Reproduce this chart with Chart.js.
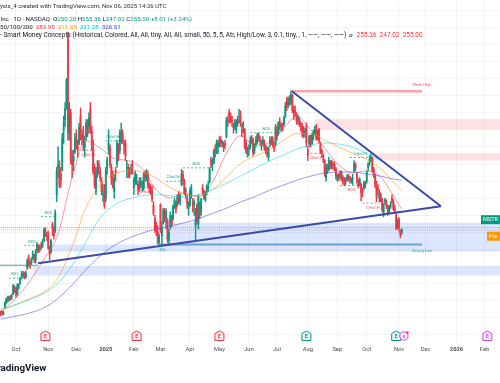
<!DOCTYPE html>
<html>
<head>
<meta charset="utf-8">
<script src="https://cdn.jsdelivr.net/npm/chart.js@4.4.1/dist/chart.umd.min.js"></script>
<style>
  html, body { margin: 0; padding: 0; background: #fff; }
  canvas { display: block; }
</style>
</head>
<body>
<canvas id="chart" width="500" height="383"></canvas>
<script>
// daily bars, Sep 16 2024 .. Nov 5 2025; bar 0 = Oct 1 2024
const firstBar = -11;
const opens = [
  133,132,131,141,147,155,151,155,156,160,170,
  168,160,170,176,186,187,190,185,198,214,205,206,213,216,210,224,230,226,230,232,238,252,245,
  246,224,222,262,255,252,305,345,345,335,345,400,415,440,535,395,425,356,355,368,
  390,375,380,420,392,395,375,390,410,405,430,398,375,345,310,335,350,340,325,305,310,
  300,345,370,375,345,330,310,340,350,375,370,395,395,380,380,345,345,340,340,342,
  315,325,330,320,320,320,320,315,335,330,335,318,315,310,290,270,258,250,236,
  290,245,265,275,270,268,238,260,272,270,290,292,290,300,295,320,335,322,310,300,285,
  290,305,295,290,260,290,262,290,280,315,310,298,310,315,325,355,350,352,372,370,375,
  385,385,380,378,380,390,415,425,420,415,405,405,400,415,412,420,400,405,400,380,368,
  372,375,388,385,370,378,385,392,385,375,380,382,375,372,360,380,385,385,378,378,
  400,395,412,405,405,408,420,440,438,445,440,450,430,428,422,415,415,408,405,400,395,405,
  370,380,388,380,393,395,405,390,400,378,370,362,355,330,345,342,352,346,350,350,343,
  328,332,332,338,330,326,325,328,332,330,326,328,340,350,335,325,320,320,310,315,322,
  325,345,355,358,358,342,332,318,315,300,305,298,275,295,295,288,280,288,300,295,285,275,260,
  268,252,250.20
];
const highs = [
  135,136,135,148,154,157,157,158,160,174,172,
  170,175,175,184,193,193,192,194,211,217,208,213,223,218,225,235,232,232,236,240,256,257,250,
  252,230,240,265,258,283,345,375,355,345,395,420,440,475,543,440,430,370,370,395,
  400,385,410,432,400,405,390,415,415,425,440,405,385,350,345,355,355,345,330,320,320,
  345,360,400,378,350,340,335,345,385,380,400,410,400,385,385,355,350,345,350,355,
  330,340,335,325,330,330,325,338,340,342,340,322,320,318,295,275,265,260,248,
  292,265,285,285,285,270,255,280,275,290,300,295,305,310,306,342,340,328,315,305,295,
  315,320,300,298,285,292,305,295,300,320,312,310,320,325,345,360,358,372,378,385,385,
  390,390,385,382,385,418,420,430,425,420,410,415,415,420,430,428,410,412,402,385,375,
  378,390,392,388,380,390,395,395,390,385,390,385,378,375,375,390,390,390,382,408,
  405,412,418,410,410,420,440,448,448,450,457,452,435,435,425,422,418,412,410,405,402,410,
  375,392,392,395,400,405,408,400,402,382,372,365,357,350,350,360,355,356,354,353,345,
  335,336,340,340,333,330,330,335,335,332,330,335,355,352,338,328,330,322,315,325,325,
  340,352,362,365,360,345,335,325,320,312,308,300,292,300,298,290,290,295,305,298,290,278,270,
  272,254,255.36
];
const lows = [
  128,129,129,139,145,148,149,151,152,159,162,
  155,158,167,174,182,184,182,183,196,200,197,203,210,206,205,220,220,222,225,228,236,244,238,
  225,210,220,245,240,250,295,330,315,316,340,380,405,430,385,385,350,330,340,365,
  372,360,378,385,378,370,360,385,390,395,395,370,335,315,305,330,335,325,305,295,285,
  295,335,365,345,320,315,300,325,345,355,365,380,380,365,355,330,330,330,335,335,
  305,320,320,305,310,315,310,312,325,325,315,308,305,295,275,250,245,233,231,
  250,232,262,265,255,235,233,255,258,268,285,278,288,292,290,318,320,305,300,285,275,
  288,300,280,275,237,262,255,270,275,305,298,295,305,310,322,345,340,350,360,365,365,
  375,375,375,368,372,388,405,410,410,405,395,400,395,405,410,405,390,395,372,365,360,
  362,372,380,362,365,375,380,383,378,370,378,370,365,360,355,375,378,375,368,376,
  385,392,400,398,398,405,418,428,432,435,437,425,415,420,408,408,405,398,390,388,390,375,
  355,375,375,378,385,392,385,385,380,365,360,352,332,325,336,340,343,343,342,340,328,
  325,326,328,325,320,318,320,325,325,322,322,320,338,340,322,315,318,296,302,312,315,
  322,340,348,352,338,330,315,295,305,295,295,280,273,290,285,275,278,285,292,282,278,254,255,
  252,242,247.02
];
const closes = [
  131,131,133,147,153,151,156,152,156,172,169,
  160,173,172,183,188,190,187,190,209,202,204,211,218,212,222,232,225,228,229,232,254,247,244,
  227,218,238,257,246,279,340,349,319,327,387,410,431,473,397,421,355,349,361,387,
  380,370,404,396,387,381,382,410,396,417,401,378,339,322,334,342,345,330,310,307,290,
  340,356,380,350,328,328,329,337,380,360,396,397,385,377,362,345,342,335,340,336,
  326,336,330,312,316,324,320,334,330,337,319,314,310,299,278,255,251,235,244,
  252,258,283,271,281,240,250,275,262,289,297,284,302,296,305,335,325,308,311,292,288,
  311,316,293,293,268,268,301,277,299,311,300,307,317,317,342,350,353,369,368,381,381,
  380,381,383,376,378,414,412,420,416,413,403,410,412,409,413,411,396,408,375,369,370,
  373,385,386,366,375,384,392,387,384,377,385,375,370,364,373,385,383,380,372,404,
  390,410,402,406,403,418,435,433,445,438,452,428,424,426,413,418,411,404,396,393,397,381,
  363,390,378,392,397,400,388,396,384,369,366,360,336,346,341,355,345,350,348,345,333,
  333,330,336,329,325,323,326,331,330,327,328,329,350,344,326,318,327,308,309,322,320,
  338,350,357,360,340,334,319,301,311,306,298,283,288,297,291,278,287,290,295,285,281,256,268,
  257,247,255.00
];

// time axis
const monthTicks = [0, 23, 43, 64, 84, 103, 124, 145, 166, 186, 208, 229, 250, 273, 292, 314, 334];
const monthLabels = ['Oct','Nov','Dec','2025','Feb','Mar','Apr','May','Jun','Jul','Aug','Sep','Oct','Nov','Dec','2026','Feb'];
const priceTicks = [100,125,150,175,200,225,250,275,300,325,350,375,400,425,450,475,500,525,550,575];

// moving averages
const maBars = [-11,0,10,20,30,40,50,60,70,80,90,100,110,120,130,140,150,160,170,180,190,200,210,220,230,240,250,260,270,275];
const ma20  = [133.8,153.5,179.3,211.1,248,330,383.8,373.2,358,355,342.9,312.6,300.5,308,302,323.2,365.6,391.4,377.7,380.7,400.4,420.1,400.4,373.2,348.9,336.8,339.8,330.7,300.5,283.95];
const ma50  = [135.3,144.4,153.5,162.6,183.8,229.2,286.8,320.1,335.3,339.8,338.3,329.2,315.6,306.5,303.5,312.6,330.8,350.5,361.1,370.1,383.8,394.4,394.4,385.3,374.7,365.6,356.5,342.9,321.7,311.35];
const ma100 = [138.3,144.4,152,161,176.2,202,236.8,271.7,289.8,299,303.5,305,303.5,302,305,312.6,321.7,332.3,342.9,353.5,362.6,371.7,377.7,380.7,379.2,374.7,365.6,355,339.8,331.28];
const ma200 = [123.2,127.7,132.3,139.9,153.5,173.2,195.9,215.6,230.8,241.4,248.9,255,259.5,264.1,270.2,277.7,285.3,294.4,302,311,318.6,326.2,332.3,336.8,338.3,338.3,335.3,332.3,327.7,326.51];

// drawings: [bar, price]
const triUpper = [[196.7, 456.5], [302.9, 288.3]];
const triLower = [[15.7, 205], [302.9, 288.3]];
const weakHigh = [[196.7, 456.5], [289.4, 456.5]];
const strongLow = [[102, 232.3], [289.4, 232.3]];
const leftLevel = [[-12, 202], [15.7, 202]];
const priceLines = [257, 253.5];

// order blocks: [fromBar, toBar, top, bottom]
const supplyZones = [[213, 346, 415.6, 400.4], [254, 346, 365.6, 355]];
const demandZones = [[108, 346, 264, 232.3], [24, 346, 232.3, 221.7], [12, 346, 200.5, 186.8]];

// structure breaks: [fromBar, toBar, price, label, bullish]
const structures = [
  [-5, 3.5, 183, 'BOS', true],
  [6, 17, 230.8, 'BOS', true],
  [18, 28, 273.2, 'BOS', true],
  [47, 56, 370.1, 'CHoCH', false],
  [64, 74, 383.8, 'CHoCH', true],
  [88, 98, 315.6, 'CHoCH', false],
  [107, 117, 324.7, 'CHoCH', true],
  [119, 138, 344.4, 'BOS', true],
  [167, 190, 395.9, 'BOS', true],
  [210, 218, 365.6, 'CHoCH', false],
  [231, 247, 318.6, 'BOS', false],
  [238, 253, 359.5, 'CHoCH', true],
  [247, 262, 292.9, 'CHoCH', false]
];

const earningsBars = [21, 86, 145, 207, 271, 336];
const earningsKind = ['miss', 'miss', 'miss', 'beat', 'beat', 'next'];
const eventBars = [276.5];

const FONT = 'Roboto, "Liberation Sans", Arial, sans-serif';
const UP = '#089981', DOWN = '#f23645', DARK = '#131722';

const bars = closes.map((c, i) => firstBar + i);
const candleColors = closes.map((c, i) => c >= opens[i] ? UP : DOWN);
const pts = (arr) => arr.map(p => ({ x: p[0], y: p[1] }));

function lineSet(data, color, width, dash, order) {
  return { type: 'line', data: data, borderColor: color, borderWidth: width, borderDash: dash || [],
           pointRadius: 0, fill: false, tension: 0, order: order };
}
function maSet(values, color) {
  return { type: 'line', data: maBars.map((b, i) => ({ x: b, y: values[i] })), borderColor: color,
           borderWidth: 1, pointRadius: 0, fill: false, cubicInterpolationMode: 'monotone', order: 4 };
}

const datasets = [];
priceLines.forEach((p, i) => {
  datasets.push(lineSet(pts([[-12, p], [346, p]]), i === 0 ? 'rgba(120,170,210,0.9)' : 'rgba(255,152,0,0.7)', 1, [1, 1], 9));
});
datasets.push({
  type: 'bar', data: bars.map((b, i) => ({ x: b, y: [lows[i], highs[i]] })),
  backgroundColor: candleColors, barThickness: 0.8, grouped: false, order: 8
});
datasets.push({
  type: 'bar', data: bars.map((b, i) => ({ x: b, y: [Math.min(opens[i], closes[i]), Math.max(opens[i], closes[i])] })),
  backgroundColor: candleColors, barThickness: 1.2, grouped: false, order: 7
});
datasets.push(maSet(ma200, 'rgba(90,85,240,0.6)'));
datasets.push(maSet(ma100, 'rgba(0,210,230,0.5)'));
datasets.push(maSet(ma50, 'rgba(255,152,0,0.55)'));
datasets.push(maSet(ma20, 'rgba(242,54,69,0.5)'));
datasets.push(lineSet(pts(weakHigh), 'rgba(242,54,69,0.45)', 2.5, [], 3));
datasets.push(lineSet(pts(strongLow), 'rgba(70,140,190,0.75)', 2, [], 3));
datasets.push(lineSet(pts(leftLevel), 'rgba(8,153,129,0.8)', 1, [], 3));
structures.forEach(s => {
  datasets.push(lineSet(pts([[s[0], s[2]], [s[1], s[2]]]), s[4] ? 'rgba(8,153,129,0.7)' : 'rgba(242,54,69,0.7)', 1, [2, 2], 2));
});
datasets.push(lineSet(pts(triUpper), '#3a4aa8', 2, [], 1));
datasets.push(lineSet(pts(triLower), '#3a4aa8', 2, [], 1));

// font size that makes a string `width` px wide
function fitSize(ctx, text, width, bold) {
  ctx.font = (bold ? 'bold ' : '') + '10px ' + FONT;
  return 10 * width / ctx.measureText(text).width;
}
function runs(ctx, x, y, parts) {
  parts.forEach(p => {
    ctx.fillStyle = p[1];
    ctx.fillText(p[0], x, y);
    x += ctx.measureText(p[0]).width;
  });
  return x;
}

function badge(ctx, cx, cy, col, tint) {
  ctx.beginPath();
  ctx.moveTo(cx, cy - 5);
  ctx.lineTo(cx + 4.5, cy - 2.5);
  ctx.lineTo(cx + 4.5, cy + 4.5);
  ctx.lineTo(cx - 4.5, cy + 4.5);
  ctx.lineTo(cx - 4.5, cy - 2.5);
  ctx.closePath();
  ctx.fillStyle = tint;
  ctx.fill();
  ctx.strokeStyle = col;
  ctx.lineWidth = 1;
  ctx.stroke();
  ctx.fillStyle = col;
  ctx.font = 'bold 5px ' + FONT;
  ctx.fillText('E', cx, cy + 0.8);
}

const overlay = {
  id: 'overlay',
  beforeDatasetsDraw(chart) {
    const { ctx, chartArea: a, scales: { x, y } } = chart;
    ctx.save();
    ctx.beginPath();
    ctx.rect(a.left, a.top, a.right - a.left, a.bottom - a.top);
    ctx.clip();
    const zone = (z, color) => {
      const x1 = x.getPixelForValue(z[0]), x2 = x.getPixelForValue(z[1]);
      const y1 = y.getPixelForValue(z[2]), y2 = y.getPixelForValue(z[3]);
      ctx.fillStyle = color;
      ctx.fillRect(x1, y1, x2 - x1, y2 - y1);
    };
    supplyZones.forEach(z => zone(z, 'rgba(242,54,69,0.15)'));
    demandZones.forEach(z => zone(z, 'rgba(41,98,255,0.16)'));
    ctx.restore();
  },
  afterDatasetsDraw(chart) {
    const { ctx, chartArea: a, scales: { x, y } } = chart;
    ctx.save();
    ctx.textAlign = 'center';
    ctx.textBaseline = 'middle';
    ctx.font = '4px ' + FONT;
    structures.forEach(s => {
      ctx.fillStyle = s[4] ? 'rgba(8,153,129,0.85)' : 'rgba(242,54,69,0.85)';
      ctx.fillText(s[3], x.getPixelForValue((s[0] + s[1]) / 2), y.getPixelForValue(s[2]) + (s[4] ? -4 : 4.5));
    });
    ctx.fillStyle = 'rgba(242,54,69,0.85)';
    ctx.fillText('Weak High', x.getPixelForValue(weakHigh[1][0]), y.getPixelForValue(weakHigh[1][1]) - 6);
    ctx.fillStyle = 'rgba(8,153,129,0.85)';
    ctx.fillText('Strong Low', x.getPixelForValue(strongLow[1][0]), y.getPixelForValue(strongLow[1][1]) + 6);
    ctx.fillText('EQL', x.getPixelForValue(104.8), y.getPixelForValue(strongLow[0][1]) + 5);

    const by = a.bottom - 7;
    earningsBars.forEach((b, i) => {
      const k = earningsKind[i];
      const col = k === 'miss' ? DOWN : k === 'beat' ? UP : '#c84ee8';
      const tint = k === 'miss' ? '#fdeaec' : k === 'beat' ? '#e3f4f1' : '#f6e8fc';
      badge(ctx, x.getPixelForValue(b), by, col, tint);
    });
    eventBars.forEach(b => {
      const cx = x.getPixelForValue(b);
      ctx.beginPath();
      ctx.arc(cx, by, 4.2, 0, Math.PI * 2);
      ctx.fillStyle = '#f6e8fc';
      ctx.fill();
      ctx.strokeStyle = '#c84ee8';
      ctx.stroke();
      ctx.fillStyle = '#c84ee8';
      ctx.font = 'bold 4px ' + FONT;
      ctx.fillText('S', cx, by + 0.5);
      ctx.beginPath();
      ctx.arc(cx + 3.5, by - 3.5, 1.3, 0, Math.PI * 2);
      ctx.fillStyle = DOWN;
      ctx.fill();
    });
    ctx.restore();
  },
  afterDraw(chart) {
    const { ctx, scales: { y } } = chart;
    ctx.save();
    ctx.textBaseline = 'middle';
    ctx.textAlign = 'left';

    const l1 = 'ysis_4 created with TradingView.com, Nov 06, 2025 14:26 UTC';
    ctx.font = fitSize(ctx, l1, 167).toFixed(2) + 'px ' + FONT;
    runs(ctx, 0, 6.5, [[l1, '#2a2e39']]);

    const l2 = [
      ['Inc \u00b7 1D \u00b7 NASDAQ  ', DARK],
      ['O', DARK], ['250.20 ', UP], ['H', DARK], ['255.36 ', UP],
      ['L', DARK], ['247.02 ', UP], ['C', DARK], ['255.00 ', UP],
      ['+8.01 (+3.24%)', UP]
    ];
    ctx.font = fitSize(ctx, l2.map(p => p[0]).join(''), 192).toFixed(2) + 'px ' + FONT;
    runs(ctx, 0.5, 19.5, l2);
    runs(ctx, 0, 27.5, [
      ['50/100/200  ', DARK],
      ['283.95  ', '#f23645'],
      ['311.35  ', '#ff9800'],
      ['331.28  ', '#00c8e0'],
      ['326.51', '#2f35f0']
    ]);

    const l4 = '- Smart Money Concepts (Historical, Colored, All, All, tiny, All, All, small, 50, 5, 5, Atr, High/Low, 3, 0.1, tiny, , 1, \u2014\u2014, \u2014\u2014, \u2014\u2014)';
    ctx.font = fitSize(ctx, l4, 347).toFixed(2) + 'px ' + FONT;
    const nx = runs(ctx, 0, 35.5, [[l4, DARK]]);
    runs(ctx, nx + 3, 35.5, [
      ['\u2300  ', DARK],
      ['255.36  ', '#f23645'],
      ['247.02  ', '#f23645'],
      ['255.00', '#f23645']
    ]);

    // symbol / pre-market tags on the cut-off price scale
    const tag = (text, price, left, col) => {
      const cy = y.getPixelForValue(price);
      ctx.fillStyle = col;
      ctx.fillRect(left, cy - 4.5, 500 - left, 9);
      ctx.fillStyle = '#fff';
      ctx.font = '5.6px ' + FONT;
      ctx.fillText(text, left + 2, cy + 0.3);
    };
    tag('MSTR', 268.6, 481, UP);
    tag('Pre', 244.4, 487, '#ff9800');

    ctx.font = 'bold ' + fitSize(ctx, 'adingView', 46, true).toFixed(2) + 'px ' + FONT;
    ctx.textAlign = 'right';
    ctx.fillStyle = DARK;
    ctx.fillText('TradingView', 46.5, 368.5);
    ctx.restore();
  }
};

new Chart(document.getElementById('chart').getContext('2d'), {
  type: 'bar',
  data: { datasets: datasets },
  options: {
    responsive: false,
    animation: false,
    devicePixelRatio: 1,
    layout: { padding: 0 },
    plugins: { legend: { display: false }, tooltip: { enabled: false } },
    scales: {
      x: {
        type: 'linear', position: 'bottom', min: -11.4, max: 345, offset: false,
        afterFit: (s) => { s.height = 40; },
        afterBuildTicks: (s) => { s.ticks = monthTicks.map(v => ({ value: v })); },
        grid: { color: 'rgba(42,46,57,0.06)', drawTicks: false, offset: false },
        border: { display: false },
        ticks: {
          autoSkip: false, maxRotation: 0, padding: 3, color: '#4a4e59',
          font: (c) => ({ family: FONT, size: 5.8, weight: (c.tick && (c.tick.value === 64 || c.tick.value === 314)) ? 'bold' : 'normal' }),
          callback: (v) => monthLabels[monthTicks.indexOf(v)]
        }
      },
      y: {
        type: 'linear', position: 'right', min: 88.3, max: 589.8,
        afterFit: (s) => { s.width = 0; },
        afterBuildTicks: (s) => { s.ticks = priceTicks.map(v => ({ value: v })); },
        grid: { color: 'rgba(42,46,57,0.05)', drawTicks: false },
        border: { display: false },
        ticks: { display: false }
      }
    }
  },
  plugins: [overlay]
});
</script>
</body>
</html>
